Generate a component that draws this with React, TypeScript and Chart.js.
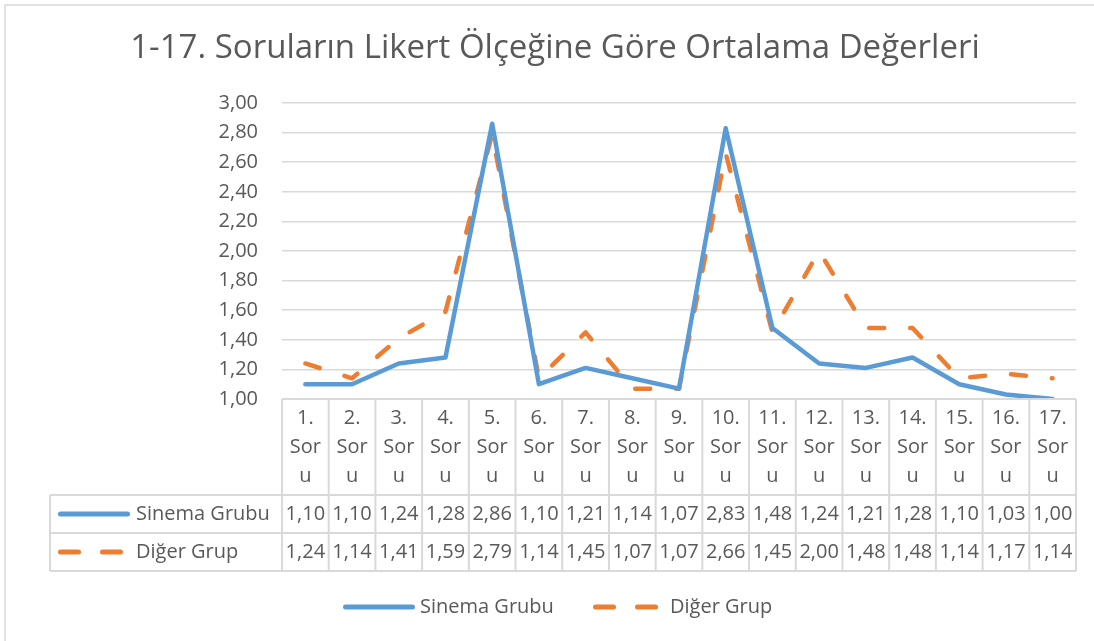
import React, { useEffect, useRef } from "react";
import { Chart, registerables } from "chart.js";
Chart.register(...registerables);

const title = "1-17. Soruların Likert Ölçeğine Göre Ortalama Değerleri";
const categories = ["1. Soru","2. Soru","3. Soru","4. Soru","5. Soru","6. Soru","7. Soru","8. Soru","9. Soru","10. Soru","11. Soru","12. Soru","13. Soru","14. Soru","15. Soru","16. Soru","17. Soru"];
const seriesNames = ["Sinema Grubu", "Diğer Grup"];
const sinemaGrubu = [1.10,1.10,1.24,1.28,2.86,1.10,1.21,1.14,1.07,2.83,1.48,1.24,1.21,1.28,1.10,1.03,1.00];
const digerGrup = [1.24,1.14,1.41,1.59,2.79,1.14,1.45,1.07,1.07,2.66,1.45,2.00,1.48,1.48,1.14,1.17,1.14];
const yMin = 1;
const yMax = 3;
const yStep = 0.2;

const BLUE = "#5B9BD5";
const ORANGE = "#ED7D31";
const TEXT = "#595959";
const LINE = "#d9d9d9";
const FONT = "'Open Sans', sans-serif";

const fmt = (v: number) => v.toFixed(2).replace(".", ",");

// "1. Soru" wrapped the way the narrow table cell wraps it
const wrapCategory = (c: string) => {
  const [num, word] = c.split(" ");
  return [num, word.slice(0, 3), word.slice(3)];
};

const tablePlugin = {
  id: "excelTable",
  afterDraw(chart: any) {
    const ctx = chart.ctx as CanvasRenderingContext2D;
    const area = chart.chartArea;
    const xs = chart.scales.x;
    const n = categories.length;
    const w = (area.right - area.left) / n;
    const tableLeft = 50;
    const headTop = area.bottom;
    const row1Top = 495;
    const row2Top = 533;
    const tableBottom = 571;
    ctx.save();

    // outer chart border (top + left visible)
    ctx.strokeStyle = LINE;
    ctx.lineWidth = 1.5;
    ctx.beginPath();
    ctx.moveTo(5, 641);
    ctx.lineTo(5, 5);
    ctx.lineTo(1094, 5);
    ctx.stroke();

    // title
    ctx.fillStyle = TEXT;
    ctx.font = `33px ${FONT}`;
    ctx.textAlign = "center";
    ctx.textBaseline = "middle";
    ctx.fillText(title, 555, 49);

    // table grid
    ctx.strokeStyle = LINE;
    ctx.lineWidth = 2;
    ctx.beginPath();
    ctx.moveTo(area.left, headTop);
    ctx.lineTo(area.right, headTop);
    for (const y of [row1Top, row2Top, tableBottom]) {
      ctx.moveTo(tableLeft, y);
      ctx.lineTo(area.right, y);
    }
    for (let i = 0; i <= n; i++) {
      const x = area.left + i * w;
      ctx.moveTo(x, headTop);
      ctx.lineTo(x, tableBottom);
    }
    ctx.moveTo(tableLeft, row1Top);
    ctx.lineTo(tableLeft, tableBottom);
    ctx.stroke();

    // header text
    ctx.fillStyle = TEXT;
    ctx.font = `20px ${FONT}`;
    ctx.textAlign = "center";
    ctx.textBaseline = "middle";
    categories.forEach((c, i) => {
      const cx = xs.getPixelForValue(i);
      wrapCategory(c).forEach((ln, j) => ctx.fillText(ln, cx, 418 + j * 29));
    });
    // values
    const rows = [sinemaGrubu, digerGrup];
    const rowY = [(row1Top + row2Top) / 2, (row2Top + tableBottom) / 2];
    rows.forEach((vals, r) => {
      vals.forEach((v, i) => ctx.fillText(fmt(v), xs.getPixelForValue(i), rowY[r]));
    });

    // legend keys helper
    const drawKey = (x: number, y: number, r: number) => {
      ctx.lineCap = "round";
      ctx.lineWidth = 5;
      ctx.beginPath();
      if (r === 0) {
        ctx.strokeStyle = BLUE;
        ctx.moveTo(x + 2.5, y);
        ctx.lineTo(x + 69.5, y);
      } else {
        ctx.strokeStyle = ORANGE;
        ctx.moveTo(x + 2.5, y);
        ctx.lineTo(x + 20.5, y);
        ctx.moveTo(x + 44.5, y);
        ctx.lineTo(x + 62.5, y);
      }
      ctx.stroke();
    };
    // table row labels
    seriesNames.forEach((name, r) => {
      drawKey(58, rowY[r], r);
      ctx.fillStyle = TEXT;
      ctx.font = `20px ${FONT}`;
      ctx.textAlign = "left";
      ctx.fillText(name, 136, rowY[r]);
    });

    // bottom legend
    const legY = 607;
    drawKey(343, legY, 0);
    ctx.fillStyle = TEXT;
    ctx.textAlign = "left";
    ctx.fillText(seriesNames[0], 420, legY);
    drawKey(593, legY, 1);
    ctx.fillStyle = TEXT;
    ctx.fillText(seriesNames[1], 670, legY);

    ctx.restore();
  },
};

export default function App() {
  const ref = useRef<HTMLCanvasElement>(null);
  useEffect(() => {
    if (!ref.current) return;
    const chart = new Chart(ref.current, {
      type: "line",
      data: {
        labels: categories,
        datasets: [
          {
            label: seriesNames[0],
            data: sinemaGrubu,
            borderColor: BLUE,
            backgroundColor: BLUE,
            borderWidth: 4.5,
            pointRadius: 0,
            tension: 0,
            borderCapStyle: "round",
            borderJoinStyle: "round",
          },
          {
            label: seriesNames[1],
            data: digerGrup,
            borderColor: ORANGE,
            backgroundColor: ORANGE,
            borderWidth: 4.5,
            borderDash: [15, 26],
            pointRadius: 0,
            tension: 0,
            borderCapStyle: "round",
            borderJoinStyle: "round",
          },
        ],
      },
      options: {
        responsive: false,
        animation: false,
        layout: { padding: { left: 0, top: 103, right: 18, bottom: 242 } },
        plugins: {
          legend: { display: false },
          title: { display: false },
          tooltip: { enabled: false },
        },
        scales: {
          x: { display: false, offset: true },
          y: {
            min: yMin,
            max: yMax,
            border: { display: false },
            grid: { color: LINE, lineWidth: 1.5, drawTicks: false },
            ticks: {
              stepSize: yStep,
              padding: 24,
              color: TEXT,
              font: { family: FONT, size: 20 },
              callback: (v: any) => fmt(Number(v)),
            },
            afterFit: (axis: any) => {
              axis.width = 282;
            },
          },
        },
      },
      plugins: [tablePlugin],
    });
    return () => chart.destroy();
  }, []);
  return (
    <div style={{ position: "fixed", left: 0, top: 0, width: 1094, height: 641, background: "#fff" }}>
      <canvas ref={ref} width={1094} height={641} style={{ display: "block" }} />
    </div>
  );
}
